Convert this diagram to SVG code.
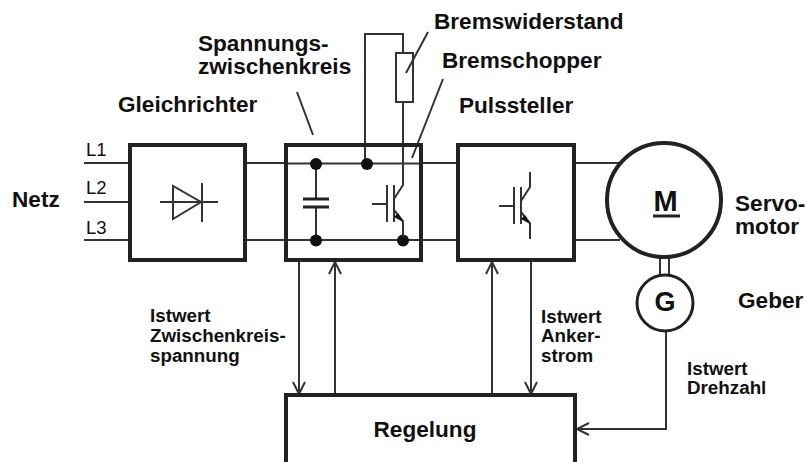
<svg xmlns="http://www.w3.org/2000/svg" width="806" height="462" viewBox="0 0 806 462">
<style>
text{font-family:"Liberation Sans",Arial,sans-serif;fill:#111;font-weight:bold}
.t{font-size:22.6px}.s{font-size:18.8px}
.n{font-weight:normal;font-size:18.500px}
.l{fill:none;stroke:#333;stroke-width:2}
.th{fill:none;stroke:#222;stroke-width:4}
.d{fill:#111;stroke:none}
</style>
<defs>
<marker id="a" markerUnits="userSpaceOnUse" markerWidth="16" markerHeight="16" refX="13" refY="7" orient="auto"><path d="M1 1L13 7L1 13" fill="none" stroke="#333" stroke-width="2"/></marker>
<g id="igbt"><path class="l" d="M-15 0H0M7 6L16 17V33"/><path d="M0-19V18M7-19V18M7-5L16-19V-34" fill="none" stroke="#333" stroke-width="2"/><path class="d" d="M16 18L7 13L11 9Z"/></g>
</defs>
<g id="connectors">
<path class="l" d="M84 163H130M84 202H130M84 240H130M245 163H286M245 240H286M421 163H458M421 240H458M574 163H620M574 240H620"/>
<path class="l" d="M286 163.500H421M286 240H421"/>
<path class="l" d="M365 164V34H403V54M403 102V185"/>
<path class="l" d="M316 164V199M316 207V240"/>
<path class="l" d="M660 258V275M669 258V275"/>
<path class="l" marker-end="url(#a)" d="M299 260V394"/>
<path class="l" marker-end="url(#a)" d="M335 394V262"/>
<path class="l" marker-end="url(#a)" d="M492 394V262"/>
<path class="l" marker-end="url(#a)" d="M531 260V394"/>
<path class="l" marker-end="url(#a)" d="M666 331V429H577"/>
<path class="l" d="M443 79L412 158M297 92L313 135"/>
</g>
<g id="gleichrichter"><rect class="th" x="130" y="145" width="115" height="115"/>
<path class="l" d="M160 202H218M202 183V222M173 186V219L201 202Z"/>
<text class="t" x="118" y="112">Gleichrichter</text></g>
<g id="zwischenkreis"><rect class="th" x="286" y="145" width="135" height="115"/>
<path d="M303 199H329M303 207H329" stroke="#222" stroke-width="3" fill="none"/>
<circle class="d" cx="316" cy="164" r="6"/><circle class="d" cx="316" cy="240.500" r="6"/><circle class="d" cx="367" cy="164" r="6"/><circle class="d" cx="403" cy="240.500" r="6"/>
<use href="#igbt" x="387" y="204"/>
<text class="t"><tspan x="198" y="51">Spannungs-</tspan><tspan x="198" y="74">zwischenkreis</tspan></text></g>
<g id="bremswiderstand"><rect x="396" y="53" width="17" height="49" fill="#fff" stroke="#333" stroke-width="2"/><path class="l" d="M428 32L406 73"/><text class="t" x="434" y="29">Bremswiderstand</text></g>
<g id="bremschopper"><text class="t" x="442" y="68">Bremschopper</text></g>
<g id="pulssteller"><rect class="th" x="458" y="145" width="116" height="115"/>
<use href="#igbt" x="514" y="206"/>
<text class="t" x="459" y="113">Pulssteller</text></g>
<g id="motor"><circle cx="664" cy="200" r="57" fill="#fff" stroke="#222" stroke-width="4"/>
<text x="665.500" y="211" font-size="29" text-anchor="middle">M</text><path d="M653 216H680" stroke="#222" stroke-width="3"/>
<text class="t"><tspan x="735" y="211">Servo-</tspan><tspan x="735" y="234">motor</tspan></text></g>
<g id="geber"><circle cx="665" cy="303" r="28" fill="#fff" stroke="#222" stroke-width="3"/>
<text x="665" y="311" font-size="27" text-anchor="middle">G</text>
<text class="t" x="738" y="308">Geber</text></g>
<g id="regelung"><path class="th" d="M286 462V395H575V462"/><text class="t" x="425" y="437" text-anchor="middle">Regelung</text></g>
<g id="labels">
<text class="t" x="12" y="207">Netz</text>
<text class="n" x="86" y="156">L1</text><text class="n" x="86" y="194">L2</text><text class="n" x="86" y="234">L3</text>
<text class="s"><tspan x="150" y="322">Istwert</tspan><tspan x="150" y="342">Zwischenkreis-</tspan><tspan x="150" y="362">spannung</tspan></text>
<text class="s"><tspan x="541" y="323">Istwert</tspan><tspan x="541" y="342">Anker-</tspan><tspan x="541" y="362">strom</tspan></text>
<text class="s"><tspan x="687" y="375">Istwert</tspan><tspan x="687" y="394">Drehzahl</tspan></text>
</g>
</svg>
